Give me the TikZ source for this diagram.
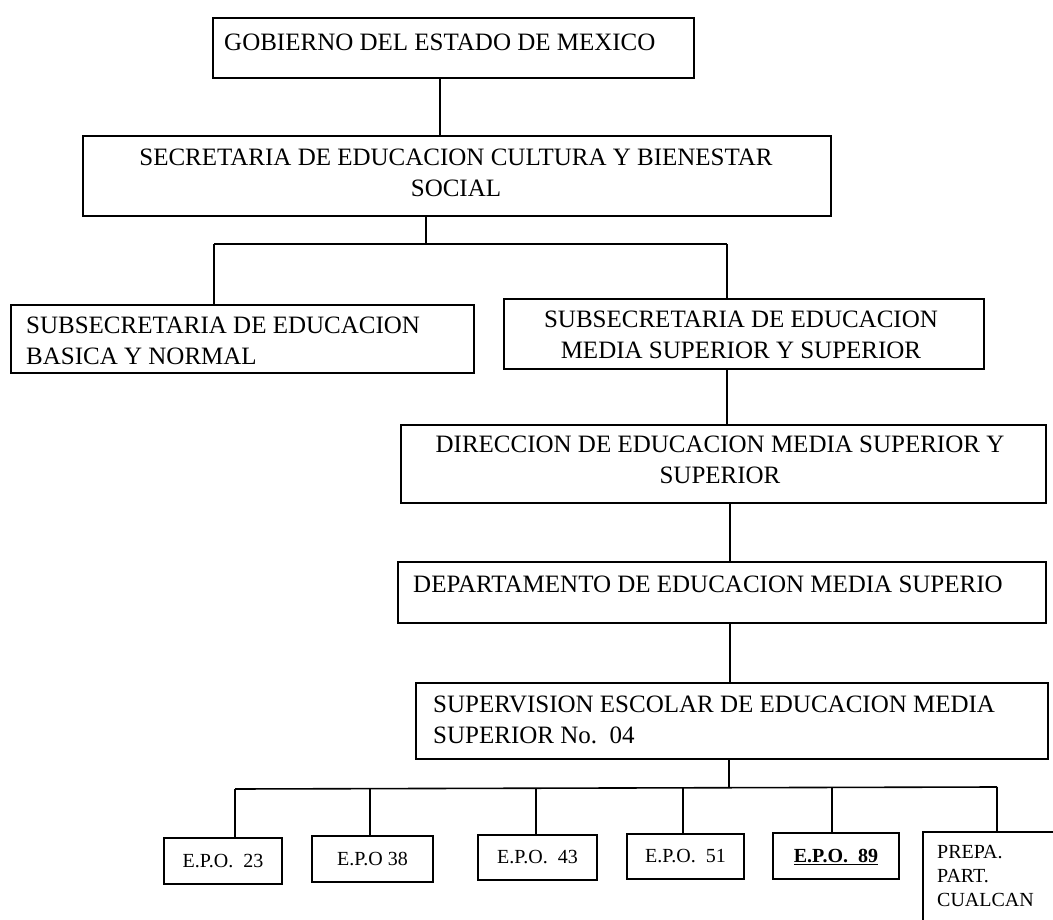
\documentclass[tikz,border=0pt]{standalone}
\usepackage{fontspec}
\setmainfont{Liberation Serif}
\tikzset{
  box/.style={draw, line width=2pt, anchor=north west, inner sep=0pt},
  conn/.style={line width=1.6pt},
  big/.style={inner sep=0pt, font=\fontsize{25}{31}\selectfont},
  small/.style={inner sep=0pt, font=\fontsize{20}{24}\selectfont},
}
\begin{document}
\begin{tikzpicture}[x=1pt,y=-1pt]
\path[use as bounding box, fill=white] (0,0) rectangle (1053,920);
\clip (0,0) rectangle (1053,920);
% boxes
\node[box, minimum width=481pt, minimum height=60pt] (gob) at (212,17) {};
\node[box, minimum width=748pt, minimum height=80pt] (sec) at (82,135) {};
\node[box, minimum width=463pt, minimum height=68pt] (lsub) at (10,304) {};
\node[box, minimum width=480pt, minimum height=70pt] (rsub) at (503,298) {};
\node[box, minimum width=645pt, minimum height=78pt] (dir) at (400,424) {};
\node[box, minimum width=648pt, minimum height=61pt] (dep) at (397,561) {};
\node[box, minimum width=632pt, minimum height=76pt] (sup) at (415,682) {};
\node[box, minimum width=118pt, minimum height=46pt] (e23) at (163,837) {};
\node[box, minimum width=121pt, minimum height=46pt] (e38) at (311,835) {};
\node[box, minimum width=119pt, minimum height=45pt] (e43) at (477,834) {};
\node[box, minimum width=117pt, minimum height=45pt] (e51) at (626,833) {};
\node[box, minimum width=126pt, minimum height=46pt] (e89) at (772,832) {};
\node[box, minimum width=160pt, minimum height=130pt] (prepa) at (922,831) {};
% texts
\node[big, anchor=west] (gobt) at (224,42) {GOBIERNO DEL ESTADO DE MEXICO};
\node[big, align=center] (sect) at (456,173) {SECRETARIA DE EDUCACION CULTURA Y BIENESTAR\\SOCIAL};
\node[big, align=left, anchor=west] (lsubt) at (26,341) {SUBSECRETARIA DE EDUCACION\\BASICA Y NORMAL};
\node[big, align=center] (rsubt) at (741,335) {SUBSECRETARIA DE EDUCACION\\MEDIA SUPERIOR Y SUPERIOR};
\node[big, align=center] (dirt) at (720,460) {DIRECCION DE EDUCACION MEDIA SUPERIOR Y\\SUPERIOR};
\node[big, anchor=west] (dept) at (413,584) {DEPARTAMENTO DE EDUCACION MEDIA SUPERIO};
\node[big, align=left, anchor=west] (supt) at (433,720) {SUPERVISION ESCOLAR DE EDUCACION MEDIA\\SUPERIOR No.~~04};
\node[small] (e23t) at (e23.center) {E.P.O.~~23};
\node[small] (e38t) at (e38.center) {E.P.O~38};
\node[small] (e43t) at (e43.center) {E.P.O.~~43};
\node[small] (e51t) at (e51.center) {E.P.O.~~51};
\node[small, text depth=0pt] (e89t) at (e89.center) {\textbf{\underline{E.P.O.~~89}}};
\node[small, align=left, anchor=west] (prepat) at (937,876) {PREPA.\\PART.\\CUALCAN};
% connectors
\draw[conn] (440,0 |- gob.south) -- (440,0 |- sec.north);
\coordinate (splL) at (214,244);
\coordinate (splR) at (727,244);
\draw[conn] (426,0 |- sec.south) -- (426,244);
\draw[conn] (splL) -- (splR);
\draw[conn] (splL) -- (splL |- lsub.north);
\draw[conn] (splR) -- (splR |- rsub.north);
\draw[conn] (727,0 |- rsub.south) -- (727,0 |- dir.north);
\draw[conn] (730,0 |- dir.south) -- (730,0 |- dep.north);
\draw[conn] (730,0 |- dep.south) -- (730,0 |- sup.north);
\coordinate (busL) at (235,789);
\coordinate (busR) at (997,787);
\draw[conn] (729,0 |- sup.south) -- (729,788);
\draw[conn] (busL) -- (busR);
\draw[conn] (busL) -- (busL |- e23.north);
\draw[conn] (370,789) -- (370,0 |- e38.north);
\draw[conn] (536,788) -- (536,0 |- e43.north);
\draw[conn] (683,788) -- (683,0 |- e51.north);
\draw[conn] (832,787) -- (832,0 |- e89.north);
\draw[conn] (busR) -- (busR |- prepa.north);
\end{tikzpicture}
\end{document}
